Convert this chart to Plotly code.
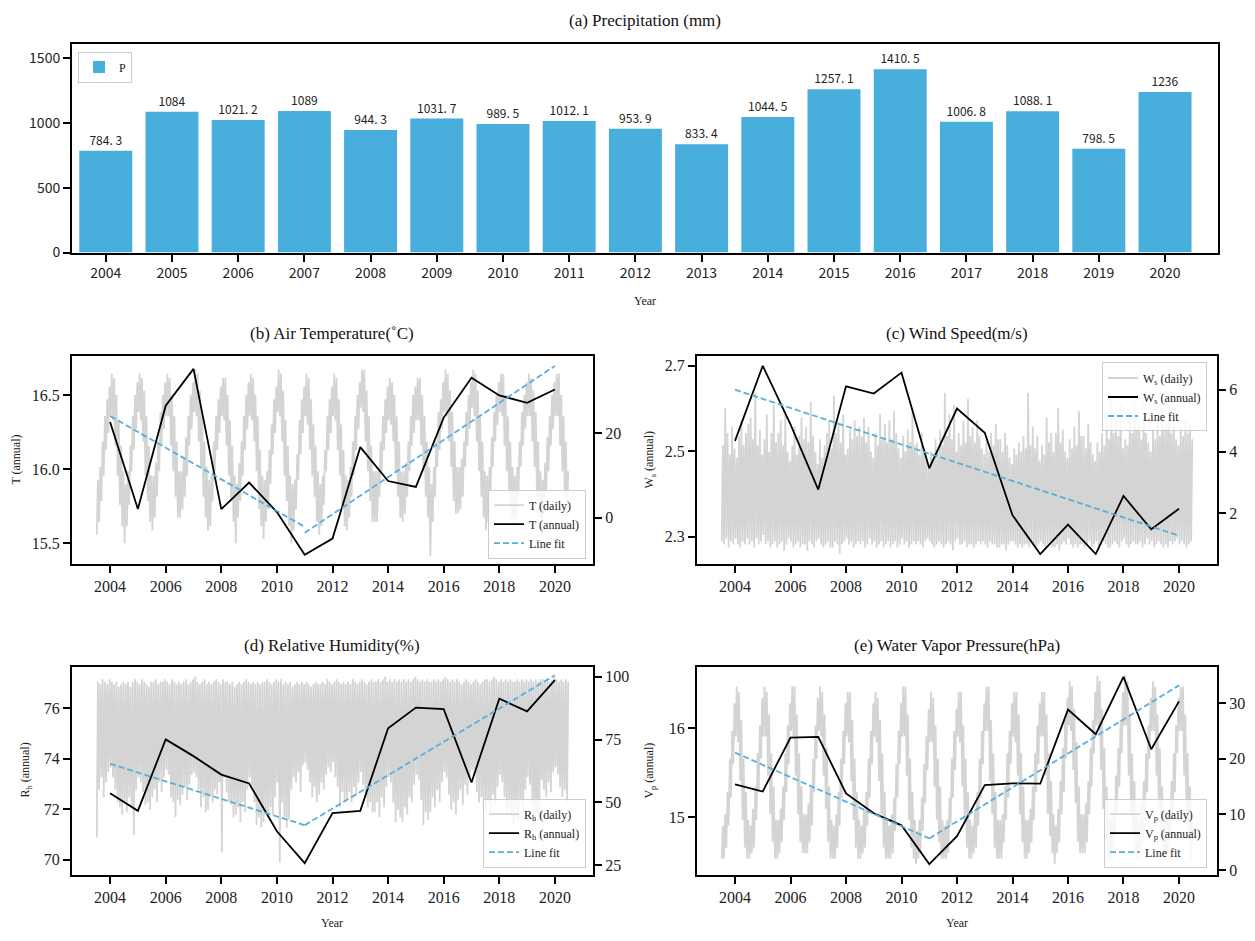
import plotly.graph_objects as go

W, H = 1255, 941
SERIF = "Liberation Serif, Times New Roman, serif"
SANS = "Noto Sans CJK SC, Noto Sans, sans-serif"
BAR_BLUE = "#48AEDC"
FIT_BLUE = "#5AAEDB"
DAILY_GREY = "#D4D4D4"

years = list(range(2004, 2021))

# (a) annual precipitation, mm
precip = [784.3, 1084, 1021.2, 1089, 944.3, 1031.7, 989.5, 1012.1, 953.9,
          833.4, 1044.5, 1257.1, 1410.5, 1006.8, 1088.1, 798.5, 1236]

# annual means
t_annual = [16.32, 15.73, 16.43, 16.68, 15.73, 15.91, 15.71, 15.42, 15.53,
            16.15, 15.92, 15.88, 16.35, 16.62, 16.50, 16.45, 16.54]
ws_annual = [2.524, 2.700, 2.563, 2.410, 2.652, 2.635, 2.684, 2.460, 2.600,
             2.543, 2.350, 2.259, 2.328, 2.259, 2.395, 2.317, 2.365]
rh_annual = [72.63, 71.94, 74.76, 74.10, 73.37, 73.02, 71.13, 69.87, 71.85,
             71.94, 75.20, 76.02, 75.96, 73.06, 76.37, 75.87, 77.10]
vp_annual = [15.368, 15.287, 15.893, 15.901, 15.265, 15.044, 14.908, 14.474, 14.787,
             15.360, 15.379, 15.375, 16.206, 15.930, 16.574, 15.761, 16.298]

# fitted trend lines (two periods split at 2011 where shown)
t_fit_years = [2004, 2011, None, 2011, 2020]
t_fit = [16.36, 15.61, None, 15.57, 16.70]
ws_fit_years = [2004, 2020]
ws_fit = [2.644, 2.302]
rh_fit_years = [2004, 2011, None, 2011, 2020]
rh_fit = [73.80, 71.37, None, 71.37, 77.30]
vp_fit_years = [2004, 2011, None, 2011, 2020]
vp_fit = [15.724, 14.761, None, 14.761, 16.478]

# daily series summarised as monthly minimum / maximum (Jan..Dec per year)
t_lo = [
    [-4, -1, 4, 10, 16, 20, 24, 23, 17, 10, 3, -2],
    [-6, -2, 3, 11, 16, 21, 25, 23, 18, 10, 4, -1],
    [-3, 0, 5, 11, 17, 21, 24, 24, 17, 11, 5, 0],
    [0, 2, 5, 10, 17, 21, 25, 24, 18, 12, 5, 0],
    [-3, -2, 4, 11, 16, 20, 24, 23, 17, 10, 4, -1],
    [-6, 0, 4, 10, 16, 21, 24, 23, 18, 11, 2, -2],
    [-5, -1, 2, 8, 15, 20, 25, 24, 18, 10, 4, -2],
    [-6, -3, 2, 9, 15, 20, 24, 22, 16, 10, 5, -1],
    [-4, -2, 3, 11, 16, 20, 24, 23, 16, 10, 3, -2],
    [-3, 0, 5, 10, 16, 21, 26, 25, 18, 11, 4, -1],
    [-1, -1, 5, 11, 16, 20, 23, 22, 18, 11, 5, 0],
    [-1, 1, 5, 11, 17, 20, 23, 23, 17, 11, 5, 0],
    [-9, -1, 5, 12, 16, 21, 25, 24, 18, 12, 4, 1],
    [1, 2, 5, 12, 17, 21, 26, 24, 18, 11, 5, 0],
    [-3, -1, 6, 12, 18, 22, 25, 24, 17, 11, 6, 0],
    [-2, 0, 5, 12, 17, 21, 24, 24, 18, 12, 5, 0],
    [-4, 1, 6, 11, 17, 21, 24, 24, 17, 11, 5, 0],
]
t_hi = [
    [9, 12, 18, 24, 28, 31, 34, 33, 29, 23, 17, 11],
    [8, 11, 17, 24, 29, 32, 34, 33, 30, 24, 17, 10],
    [10, 13, 18, 25, 29, 32, 34, 33, 29, 24, 18, 11],
    [11, 14, 19, 24, 29, 32, 35, 34, 30, 25, 18, 12],
    [9, 10, 18, 24, 28, 31, 33, 33, 29, 23, 17, 10],
    [8, 13, 18, 24, 29, 32, 34, 33, 29, 24, 16, 10],
    [9, 11, 16, 22, 28, 31, 35, 34, 30, 23, 17, 10],
    [8, 9, 15, 23, 28, 31, 34, 33, 28, 22, 17, 11],
    [8, 10, 16, 24, 28, 31, 34, 33, 28, 22, 16, 10],
    [9, 12, 18, 24, 29, 32, 35, 35, 30, 24, 17, 11],
    [11, 11, 18, 24, 28, 31, 33, 32, 29, 24, 18, 11],
    [11, 13, 18, 24, 29, 31, 33, 33, 29, 24, 18, 12],
    [8, 12, 18, 25, 28, 32, 35, 34, 30, 25, 18, 12],
    [12, 14, 18, 25, 29, 32, 35, 34, 30, 24, 18, 11],
    [10, 12, 19, 25, 29, 32, 34, 34, 29, 24, 18, 12],
    [10, 12, 18, 25, 29, 32, 34, 33, 30, 25, 18, 11],
    [9, 13, 19, 24, 29, 32, 34, 34, 29, 24, 18, 11],
]

ws_lo = [
    [1.1, 1.0, 1.2, 0.9, 1.1, 1.0, 1.2, 1.0, 0.9, 1.1, 1.0, 1.2],
    [1.0, 1.1, 0.9, 1.2, 1.0, 1.1, 1.3, 1.0, 1.1, 0.9, 1.0, 1.1],
    [0.9, 1.0, 1.1, 0.8, 1.0, 1.2, 1.1, 0.9, 1.0, 1.1, 0.9, 1.0],
    [1.0, 0.8, 1.1, 1.0, 0.9, 1.1, 1.2, 1.0, 0.9, 1.0, 1.1, 0.9],
    [0.9, 1.1, 1.0, 0.7, 1.0, 1.1, 1.2, 1.0, 1.1, 0.9, 1.0, 1.1],
    [1.0, 1.1, 0.9, 1.0, 1.2, 1.0, 1.1, 0.9, 1.0, 1.1, 0.9, 1.0],
    [1.1, 0.9, 1.0, 1.1, 0.9, 1.0, 1.2, 1.0, 1.1, 0.9, 1.0, 1.1],
    [1.0, 1.1, 1.0, 0.9, 1.1, 1.2, 1.1, 1.0, 0.9, 1.0, 1.1, 1.0],
    [0.9, 1.0, 1.1, 1.0, 0.8, 1.1, 1.2, 1.0, 1.0, 1.1, 0.9, 1.0],
    [1.0, 0.9, 1.0, 1.1, 1.0, 1.1, 1.0, 0.9, 1.1, 1.0, 1.0, 0.9],
    [0.9, 1.0, 1.0, 0.8, 1.0, 1.1, 1.1, 1.0, 0.9, 1.0, 0.9, 1.0],
    [1.0, 0.9, 1.1, 1.0, 0.9, 1.0, 1.1, 1.0, 0.9, 1.0, 1.1, 0.9],
    [0.9, 1.0, 0.8, 1.0, 1.1, 1.0, 1.2, 1.0, 0.9, 1.0, 0.9, 1.0],
    [1.0, 0.9, 1.0, 1.1, 0.9, 1.0, 1.1, 0.8, 1.0, 1.1, 1.0, 0.9],
    [0.9, 1.0, 1.1, 1.0, 0.9, 1.1, 1.2, 1.0, 0.9, 1.0, 1.1, 1.0],
    [1.0, 1.1, 0.9, 1.0, 1.2, 1.0, 1.1, 0.9, 1.0, 1.1, 1.0, 0.9],
    [1.0, 0.9, 1.1, 1.0, 1.1, 1.2, 1.0, 1.1, 1.0, 0.9, 1.0, 1.1],
]
ws_hi = [
    [4.2, 5.4, 4.6, 3.9, 4.8, 4.1, 3.8, 4.5, 5.0, 4.2, 4.6, 4.9],
    [5.1, 4.4, 5.9, 4.2, 4.7, 3.9, 4.4, 5.2, 4.0, 4.6, 5.5, 4.3],
    [4.6, 5.0, 4.2, 5.3, 4.0, 3.7, 4.2, 4.8, 3.9, 4.5, 5.1, 4.4],
    [4.8, 4.3, 5.6, 4.5, 4.0, 3.6, 4.4, 3.8, 4.2, 4.6, 5.0, 4.1],
    [5.8, 4.6, 4.9, 4.3, 5.2, 3.9, 4.1, 4.7, 4.4, 5.0, 4.5, 4.8],
    [4.5, 5.1, 4.3, 4.8, 4.0, 3.8, 4.6, 4.2, 5.2, 4.4, 4.9, 4.3],
    [5.0, 4.4, 5.3, 4.6, 4.1, 3.8, 4.5, 4.0, 4.7, 4.3, 5.4, 4.2],
    [4.3, 3.9, 4.6, 4.1, 3.7, 3.5, 4.0, 3.8, 4.4, 4.0, 4.7, 4.2],
    [5.9, 4.5, 5.2, 4.4, 5.5, 4.0, 4.6, 4.2, 5.0, 4.3, 5.7, 4.5],
    [4.8, 4.3, 5.0, 4.5, 4.1, 3.9, 4.4, 4.0, 4.6, 4.2, 4.9, 4.4],
    [4.4, 4.0, 4.6, 4.2, 3.8, 3.6, 4.1, 3.9, 4.3, 4.0, 4.5, 4.1],
    [5.9, 4.2, 4.8, 4.1, 4.5, 3.7, 4.2, 3.9, 5.1, 4.3, 4.6, 4.0],
    [4.6, 5.4, 4.3, 4.7, 4.0, 3.8, 4.4, 4.1, 4.8, 4.2, 5.3, 4.5],
    [4.5, 4.1, 4.9, 4.3, 3.9, 3.7, 4.3, 4.0, 4.6, 4.2, 5.0, 4.4],
    [5.8, 4.6, 5.2, 4.5, 5.5, 4.1, 4.4, 4.2, 5.3, 4.6, 5.6, 4.7],
    [5.0, 4.4, 5.6, 4.6, 4.3, 4.0, 4.7, 4.4, 5.1, 4.5, 5.4, 4.8],
    [4.9, 5.5, 4.6, 5.0, 4.4, 4.2, 4.8, 4.5, 5.0, 4.6, 4.9, 4.4],
]

rh_lo = [
    [36, 55, 60, 52, 58, 62, 64, 60, 55, 50, 48, 45],
    [50, 46, 52, 48, 37, 55, 60, 58, 54, 49, 50, 47],
    [52, 55, 50, 58, 54, 60, 63, 61, 52, 50, 44, 51],
    [49, 53, 56, 51, 57, 61, 62, 60, 55, 48, 52, 46],
    [47, 52, 50, 55, 53, 58, 30, 60, 54, 50, 49, 44],
    [45, 48, 42, 50, 46, 55, 60, 56, 50, 41, 44, 40],
    [42, 46, 44, 48, 45, 52, 58, 26, 50, 44, 40, 43],
    [55, 60, 58, 62, 54, 65, 66, 63, 58, 52, 56, 50],
    [53, 58, 55, 61, 64, 62, 66, 60, 56, 48, 54, 50],
    [51, 54, 50, 56, 53, 58, 62, 57, 52, 48, 50, 46],
    [46, 50, 44, 52, 48, 56, 60, 58, 50, 42, 47, 44],
    [42, 48, 45, 52, 50, 57, 61, 59, 51, 41, 46, 43],
    [46, 52, 48, 55, 50, 58, 62, 60, 53, 47, 50, 45],
    [51, 55, 49, 57, 53, 60, 63, 61, 54, 50, 52, 48],
    [46, 50, 45, 53, 49, 56, 61, 58, 52, 46, 48, 44],
    [41, 47, 43, 50, 46, 55, 60, 57, 49, 40, 45, 42],
    [59, 55, 52, 58, 54, 62, 64, 61, 56, 52, 55, 50],
]
rh_hi = [
    [98, 97, 99, 98, 97, 99, 98, 97, 98, 96, 97, 98],
    [97, 98, 96, 98, 99, 98, 97, 99, 98, 97, 96, 98],
    [98, 99, 97, 98, 98, 99, 98, 97, 99, 98, 97, 98],
    [97, 98, 99, 97, 98, 99, 100, 98, 97, 98, 99, 97],
    [98, 97, 98, 99, 98, 97, 99, 98, 98, 97, 98, 96],
    [97, 98, 97, 98, 99, 98, 97, 98, 97, 98, 97, 98],
    [98, 99, 98, 97, 98, 99, 98, 99, 97, 98, 97, 98],
    [96, 97, 98, 97, 98, 97, 98, 97, 96, 97, 98, 97],
    [97, 98, 97, 99, 98, 97, 98, 99, 98, 97, 98, 97],
    [98, 97, 99, 98, 97, 98, 99, 98, 97, 98, 99, 98],
    [98, 99, 98, 99, 100, 98, 99, 98, 99, 98, 99, 98],
    [99, 98, 99, 98, 99, 100, 99, 98, 99, 98, 99, 98],
    [98, 99, 98, 99, 98, 99, 100, 99, 98, 99, 98, 99],
    [98, 97, 98, 99, 98, 97, 98, 99, 98, 97, 98, 99],
    [99, 98, 99, 100, 99, 98, 99, 98, 99, 98, 99, 98],
    [98, 99, 98, 99, 98, 99, 98, 99, 98, 99, 98, 99],
    [99, 98, 99, 98, 99, 100, 99, 98, 99, 98, 99, 98],
]

vp_lo = [
    [2, 2, 4, 8, 13, 19, 24, 23, 16, 9, 4, 2],
    [2, 3, 4, 9, 14, 20, 24, 24, 17, 10, 5, 2],
    [2, 3, 5, 9, 14, 19, 25, 24, 17, 10, 5, 3],
    [3, 3, 5, 8, 14, 20, 25, 24, 17, 11, 5, 2],
    [2, 2, 4, 8, 13, 19, 24, 23, 16, 9, 4, 2],
    [2, 3, 4, 8, 13, 19, 24, 23, 16, 10, 4, 2],
    [2, 2, 3, 7, 13, 19, 24, 24, 17, 9, 4, 2],
    [1, 2, 3, 7, 12, 18, 23, 23, 15, 9, 5, 2],
    [2, 2, 3, 8, 13, 18, 24, 23, 15, 9, 4, 2],
    [2, 3, 4, 8, 13, 19, 25, 25, 16, 10, 4, 2],
    [2, 2, 5, 9, 13, 19, 24, 23, 17, 10, 5, 2],
    [2, 3, 5, 9, 14, 19, 24, 24, 17, 10, 6, 3],
    [1, 3, 5, 10, 14, 20, 26, 25, 18, 12, 5, 3],
    [3, 3, 5, 10, 15, 21, 26, 25, 18, 11, 5, 2],
    [2, 3, 6, 10, 15, 21, 26, 26, 17, 10, 6, 3],
    [2, 3, 5, 9, 14, 20, 25, 25, 17, 11, 5, 2],
    [2, 3, 5, 9, 14, 21, 25, 25, 17, 10, 5, 2],
]
vp_hi = [
    [8, 10, 14, 20, 25, 30, 33, 32, 27, 20, 14, 9],
    [8, 11, 15, 21, 26, 31, 33, 32, 28, 21, 15, 9],
    [9, 11, 15, 21, 26, 30, 33, 33, 28, 21, 15, 10],
    [10, 12, 15, 20, 26, 31, 33, 32, 28, 22, 15, 9],
    [8, 10, 14, 20, 25, 30, 32, 32, 27, 20, 14, 9],
    [8, 11, 14, 20, 25, 30, 32, 31, 27, 21, 14, 9],
    [8, 10, 13, 19, 25, 30, 33, 33, 28, 20, 14, 9],
    [7, 9, 13, 19, 24, 29, 32, 31, 26, 20, 15, 9],
    [8, 9, 13, 20, 25, 29, 32, 32, 26, 20, 14, 9],
    [8, 11, 14, 20, 25, 30, 33, 33, 27, 21, 14, 9],
    [9, 10, 15, 21, 25, 30, 32, 32, 28, 21, 15, 9],
    [9, 11, 15, 21, 26, 30, 32, 32, 28, 21, 16, 10],
    [8, 11, 16, 22, 27, 31, 34, 33, 29, 23, 15, 10],
    [10, 12, 16, 22, 27, 32, 35, 34, 29, 22, 15, 10],
    [9, 11, 17, 22, 27, 32, 35, 34, 28, 21, 16, 10],
    [9, 12, 16, 21, 26, 31, 34, 33, 28, 22, 15, 9],
    [9, 11, 16, 21, 26, 31, 33, 33, 28, 21, 15, 9],
]


def monthly_trace(lo_rows, hi_rows):
    """Alternate monthly min/max so the daily spread renders as a dense band.
    A year's value sits at mid-year, so January is just before it."""
    xs, ys = [], []
    for yr, lo_row, hi_row in zip(years, lo_rows, hi_rows):
        for m, (lo, hi) in enumerate(zip(lo_row, hi_row)):
            xs += [yr + (m - 5.75) / 12, yr + (m - 5.25) / 12]
            ys += [lo, hi]
    return xs, ys


def fx(px):
    return px / W


def fy(px):
    return 1 - px / H


fig = go.Figure()

# ---- (a) precipitation bars
fig.add_trace(go.Bar(
    x=years, y=precip, width=0.8, name="P",
    marker=dict(color=BAR_BLUE, line=dict(width=0)),
    text=[f"{v:g}".replace(".", ". ") for v in precip],
    textposition="outside", cliponaxis=False,
    textfont=dict(family=SANS, size=12, color="#222222"),
    xaxis="x", yaxis="y", legend="legend",
))

panels = [
    # xaxis, right(daily) axis, left(annual) axis, legend, symbol, daily, annual, fit
    ("x2", "y2", "y3", "legend2", "T", t_lo, t_hi, t_annual, t_fit_years, t_fit),
    ("x3", "y4", "y5", "legend3", "W<sub>s</sub>", ws_lo, ws_hi, ws_annual, ws_fit_years, ws_fit),
    ("x4", "y6", "y7", "legend4", "R<sub>h</sub>", rh_lo, rh_hi, rh_annual, rh_fit_years, rh_fit),
    ("x5", "y8", "y9", "legend5", "V<sub>p</sub>", vp_lo, vp_hi, vp_annual, vp_fit_years, vp_fit),
]

for xa, ya_r, ya_l, lg, sym, lo, hi, ann, fit_x, fit_y in panels:
    dx, dy = monthly_trace(lo, hi)
    fig.add_trace(go.Scatter(
        x=dx, y=dy, mode="lines", name=f"{sym} (daily)",
        line=dict(color=DAILY_GREY, width=1.8),
        xaxis=xa, yaxis=ya_r, legend=lg,
    ))
    fig.add_trace(go.Scatter(
        x=years, y=ann, mode="lines", name=f"{sym} (annual)",
        line=dict(color="black", width=1.8),
        xaxis=xa, yaxis=ya_l, legend=lg,
    ))
    fig.add_trace(go.Scatter(
        x=fit_x, y=fit_y, mode="lines", name="Line fit",
        line=dict(color=FIT_BLUE, width=1.8, dash="6px,3px"),
        connectgaps=False,
        xaxis=xa, yaxis=ya_l, legend=lg,
    ))

axis_common = dict(
    showline=True, linecolor="black", linewidth=2,
    ticks="outside", ticklen=7, tickwidth=1.5, tickcolor="black",
    showgrid=False, zeroline=False,
)

layout = dict(
    width=W, height=H, margin=dict(l=0, r=0, t=0, b=0),
    paper_bgcolor="white", plot_bgcolor="white",
    showlegend=True,
    xaxis=dict(**axis_common, mirror=True, domain=[fx(72), fx(1218)], range=[2003.49, 2020.80],
               anchor="y", tickvals=years, tickfont=dict(family=SANS, size=14, color="#222222")),
    yaxis=dict(**axis_common, mirror=True, domain=[fy(255), fy(44)], range=[0, 1609],
               anchor="x", tickvals=[0, 500, 1000, 1500],
               tickfont=dict(family=SANS, size=14, color="#222222")),
)

# lower panels: (xaxis, right axis, left axis, x-domain px, y-domain px,
#                right range, right ticks, left range, left ticks, left format)
geom = [
    ("x2", "y2", "y3", (72, 593), (359, 569), [-10.8, 38.3], [0, 20], [15.361, 16.77], [15.5, 16.0, 16.5], ".1f"),
    ("x3", "y4", "y5", (697, 1217), (359, 569), [0.38, 7.10], [2, 4, 6], [2.2367, 2.724], [2.3, 2.5, 2.7], ".1f"),
    ("x4", "y6", "y7", (72, 593), (673, 883), [21.2, 104.1], [25, 50, 75, 100], [69.42, 77.64], [70, 72, 74, 76], "d"),
    ("x5", "y8", "y9", (697, 1217), (673, 883), [-0.84, 36.6], [0, 10, 20, 30], [14.356, 16.689], [15, 16], "d"),
]
serif_tick = dict(family=SERIF, size=16, color="#222222")
for xa, yr_, yl_, (x0, x1), (y0, y1), rr, rt, lr, lt, lf in geom:
    layout["xaxis" + xa[1:]] = dict(**axis_common, mirror=True, domain=[fx(x0), fx(x1)],
                                    range=[2002.63, 2021.37], anchor=yr_,
                                    tickvals=list(range(2004, 2021, 2)), tickfont=serif_tick)
    layout["yaxis" + yr_[1:]] = dict(**axis_common, mirror=True, domain=[fy(y1), fy(y0)],
                                     range=rr, anchor=xa, side="right",
                                     tickvals=rt, tickfont=serif_tick)
    layout["yaxis" + yl_[1:]] = dict(**axis_common, domain=[fy(y1), fy(y0)],
                                     range=lr, anchor=xa, side="left", overlaying=yr_,
                                     tickvals=lt, tickformat=lf, tickfont=serif_tick)

legend_common = dict(
    bgcolor="rgba(255,255,255,0.8)", bordercolor="#CCCCCC", borderwidth=1,
    font=dict(family=SERIF, size=12, color="#222222"),
    tracegroupgap=0, itemwidth=30,
)
layout["legend"] = dict(**legend_common, x=fx(78), y=fy(52), xanchor="left", yanchor="top")
layout["legend2"] = dict(**legend_common, x=fx(586), y=fy(564), xanchor="right", yanchor="bottom")
layout["legend3"] = dict(**legend_common, x=fx(1207), y=fy(366), xanchor="right", yanchor="top")
layout["legend4"] = dict(**legend_common, x=fx(586), y=fy(876), xanchor="right", yanchor="bottom")
layout["legend5"] = dict(**legend_common, x=fx(1207), y=fy(876), xanchor="right", yanchor="bottom")

fig.update_layout(**layout)

title_font = dict(family=SERIF, size=17, color="#111111")
label_font = dict(family=SERIF, size=12, color="#222222")
annotations = [
    dict(text="(a) Precipitation (mm)", x=fx(645), y=fy(21), font=title_font),
    dict(text="(b) Air Temperature(˚C)", x=fx(332), y=fy(337), font=title_font),
    dict(text="(c) Wind Speed(m/s)", x=fx(957), y=fy(337), font=title_font),
    dict(text="(d) Relative Humidity(%)", x=fx(332), y=fy(652), font=title_font),
    dict(text="(e) Water Vapor Pressure(hPa)", x=fx(957), y=fy(652), font=title_font),
    dict(text="Year", x=fx(645), y=fy(304), font=label_font),
    dict(text="Year", x=fx(332), y=fy(932), font=label_font),
    dict(text="Year", x=fx(957), y=fy(932), font=label_font),
    dict(text="T (annual)", x=fx(16), y=fy(464), font=label_font, textangle=-90),
    dict(text="W<sub>s</sub> (annual)", x=fx(650), y=fy(464), font=label_font, textangle=-90),
    dict(text="R<sub>h</sub> (annual)", x=fx(26), y=fy(778), font=label_font, textangle=-90),
    dict(text="V<sub>p</sub> (annual)", x=fx(650), y=fy(778), font=label_font, textangle=-90),
]
for a in annotations:
    a.update(xref="paper", yref="paper", showarrow=False, xanchor="center", yanchor="middle")
fig.update_layout(annotations=annotations)

fig.write_html("out.html")
